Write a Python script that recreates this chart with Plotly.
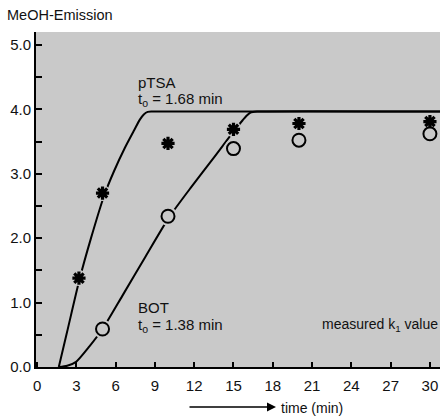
import plotly.graph_objects as go

# ---- data ----
ptsa_t = [3.2, 5, 10, 15, 20, 30]
ptsa_y = [1.38, 2.70, 3.47, 3.69, 3.78, 3.81]

bot_t = [5, 10, 15, 20, 30]
bot_y = [0.59, 2.34, 3.39, 3.52, 3.62]

ptsa_curve_t = [1.66, 2.3, 3.23, 4.12, 5.14, 5.9, 6.7, 7.4, 7.85, 8.15, 8.45, 8.8, 30.8]
ptsa_curve_y = [0.0, 0.55, 1.35, 2.0, 2.67, 3.05, 3.4, 3.67, 3.84, 3.92, 3.96, 3.965, 3.965]

bot_curve_t = [1.66, 2.3, 2.98, 4.0, 4.99, 6.5, 8.3, 10.1, 11.8, 13.5, 15.1, 15.7, 16.0, 16.3, 16.8, 30.8]
bot_curve_y = [0.0, 0.02, 0.08, 0.32, 0.585, 1.1, 1.72, 2.33, 2.8, 3.25, 3.68, 3.83, 3.9, 3.95, 3.965, 3.965]

x_ticks = [0, 3, 6, 9, 12, 15, 18, 21, 24, 27, 30]
y_ticks = [0, 1, 2, 3, 4, 5]

BG = "#c9c9c9"
FONT = "Liberation Sans, Arial, sans-serif"

fig = go.Figure()

fig.add_trace(go.Scatter(x=ptsa_curve_t, y=ptsa_curve_y, mode="lines",
                         line=dict(color="black", width=2, shape="spline", smoothing=0.6),
                         hoverinfo="skip"))
fig.add_trace(go.Scatter(x=bot_curve_t, y=bot_curve_y, mode="lines",
                         line=dict(color="black", width=2, shape="spline", smoothing=0.6),
                         hoverinfo="skip"))

# background-coloured halos that break the lines at the markers
fig.add_trace(go.Scatter(x=ptsa_t, y=ptsa_y, mode="markers",
                         marker=dict(symbol="circle", size=16, color=BG), hoverinfo="skip"))
fig.add_trace(go.Scatter(x=bot_t, y=bot_y, mode="markers",
                         marker=dict(symbol="circle", size=19, color=BG), hoverinfo="skip"))

fig.add_trace(go.Scatter(x=bot_t, y=bot_y, mode="markers", name="BOT",
                         marker=dict(symbol="circle", size=13, color=BG,
                                     line=dict(color="black", width=2))))
fig.add_trace(go.Scatter(x=ptsa_t, y=ptsa_y, mode="markers", name="pTSA",
                         marker=dict(symbol="asterisk-open", size=11, color="black",
                                     line=dict(color="black", width=3.2))))

ann = []
def txt(x, y, s, xanchor="left", size=15, xref="x", yref="y", yanchor="middle"):
    ann.append(dict(x=x, y=y, xref=xref, yref=yref, text=s, showarrow=False,
                    xanchor=xanchor, yanchor=yanchor,
                    font=dict(family=FONT, size=size, color="#111")))

txt(7.55, 4.42, "pTSA")
txt(7.55, 4.15, "t<sub>o</sub> = 1.68 min")
txt(7.55, 0.92, "BOT")
txt(7.55, 0.65, "t<sub>o</sub> = 1.38 min")
txt(30.77, 0.65, "measured k<sub>1</sub> value", xanchor="right", size=14)

# axis title pieces (paper coordinates)
L, R, T, B = 36, 8, 32, 49
W, H = 448, 416
pw, ph = W - L - R, H - T - B
def px(xp): return (xp - L) / pw
def py(yp): return (H - B - yp) / ph

txt(px(5), py(15), "MeOH-Emission", xref="paper", yref="paper", size=14.5)
txt(px(279), py(408), "time (min)", xref="paper", yref="paper", size=14)
ann.append(dict(x=px(276), y=py(407), xref="paper", yref="paper",
                ax=-88, ay=0, text="", showarrow=True,
                arrowhead=2, arrowsize=1.2, arrowwidth=1.5, arrowcolor="black"))

fig.update_layout(
    width=W, height=H,
    margin=dict(l=L, r=R, t=T, b=B),
    paper_bgcolor="white", plot_bgcolor=BG,
    showlegend=False,
    annotations=ann,
    font=dict(family=FONT, size=14, color="#111"),
    xaxis=dict(range=[-0.08, 30.77], tickvals=x_ticks, ticktext=[str(v) for v in x_ticks],
               ticks="inside", ticklen=5, tickwidth=1.5, tickcolor="black",
               showline=True, linecolor="black", linewidth=2, showgrid=False,
               zeroline=False, ticklabelstandoff=4,
               tickfont=dict(family=FONT, size=15, color="#111")),
    yaxis=dict(range=[0, 5.2], tickvals=y_ticks, ticktext=[f"{v:.1f}" for v in y_ticks],
               ticks="inside", ticklen=6, tickwidth=1.5, tickcolor="black",
               minor=dict(dtick=0.5, ticks="inside", ticklen=6, tickwidth=1.5, tickcolor="black"),
               showline=True, linecolor="black", linewidth=2, showgrid=False,
               zeroline=False, tickfont=dict(family=FONT, size=15, color="#111")),
)

fig.write_html("out.html")
